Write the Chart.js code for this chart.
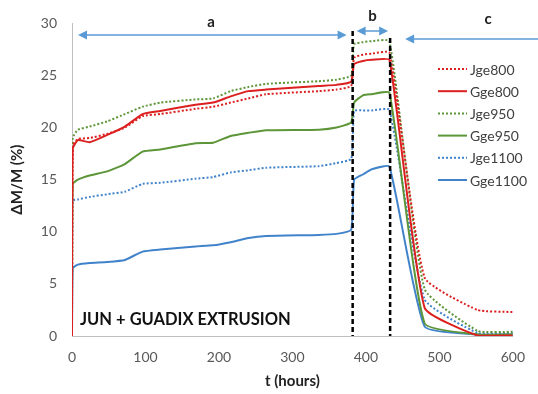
<!DOCTYPE html>
<html>
<head>
<meta charset="utf-8">
<script src="https://cdn.jsdelivr.net/npm/chart.js@4/dist/chart.umd.min.js"></script>
<style>
  html, body { margin: 0; padding: 0; background: #fff; }
  #wrap { width: 538px; height: 394px; position: relative; }
</style>
</head>
<body>
<div id="wrap"><canvas id="c" width="538" height="394"></canvas></div>
<script>
// Sampling times (hours)
const hours = [0, 1, 8, 24, 48, 72, 96, 120, 168, 192, 216, 240, 264, 336, 360, 380, 384, 396, 408, 432, 480, 552, 600];

// Mass change ΔM/M (%) per sample
const jge800  = [0, 18.3, 18.9, 19.0, 19.4, 20.0, 21.1, 21.3, 21.8, 22.0, 22.4, 22.8, 23.2, 23.5, 23.65, 24.0, 26.7, 27.0, 27.1, 27.2, 5.6, 2.5, 2.3];
const gge800  = [0, 18.0, 18.8, 18.6, 19.3, 20.1, 21.3, 21.6, 22.2, 22.4, 23.0, 23.5, 23.65, 24.0, 24.1, 24.4, 26.1, 26.4, 26.5, 26.5, 2.7, 0.05, 0.05];
const jge950  = [0, 19.0, 19.8, 20.1, 20.6, 21.3, 22.0, 22.4, 22.7, 22.8, 23.5, 23.9, 24.2, 24.45, 24.6, 25.0, 28.0, 28.2, 28.3, 28.3, 4.5, 0.5, 0.4];
const gge950  = [0, 14.6, 15.0, 15.4, 15.8, 16.5, 17.7, 17.9, 18.5, 18.55, 19.2, 19.5, 19.75, 19.8, 20.0, 20.5, 22.4, 23.1, 23.2, 23.35, 1.2, 0.15, 0.15];
const jge1100 = [0, 13.0, 13.1, 13.35, 13.6, 13.85, 14.6, 14.7, 15.1, 15.25, 15.7, 15.9, 16.15, 16.3, 16.6, 17.0, 21.6, 21.65, 21.65, 21.7, 3.5, 0.3, 0.3];
const gge1100 = [0, 6.5, 6.85, 7.0, 7.1, 7.3, 8.1, 8.3, 8.6, 8.7, 9.0, 9.4, 9.6, 9.7, 9.8, 10.2, 15.0, 15.5, 16.0, 16.25, 0.9, 0.15, 0.15];

const seriesNames = ['Jge800', 'Gge800', 'Jge950', 'Gge950', 'Jge1100', 'Gge1100'];

// Stage boundaries (hours) and stage labels
const stageBounds = [382, 433];
const stageLabels = ['a', 'b', 'c'];
const panelTitle = 'JUN + GUADIX EXTRUSION';

const RED = '#dc1f1f', GREEN = '#5c9638', BLUE = '#4183cb', ARROW = '#5b9bd5';
const FONT = 'Lato, "Open Sans", sans-serif';

function pts(vals) { return hours.map((h, i) => ({ x: h, y: vals[i] })); }
function ds(label, vals, color, dotted) {
  return {
    label, data: pts(vals), borderColor: color, backgroundColor: color,
    borderWidth: 2, borderDash: dotted ? [2, 2] : [], pointRadius: 0,
    tension: 0.15, fill: false
  };
}

const datasets = [
  ds(seriesNames[0], jge800, RED, true),
  ds(seriesNames[1], gge800, RED, false),
  ds(seriesNames[2], jge950, GREEN, true),
  ds(seriesNames[3], gge950, GREEN, false),
  ds(seriesNames[4], jge1100, BLUE, true),
  ds(seriesNames[5], gge1100, BLUE, false)
];

function arrowHead(ctx, x, y, dir) {
  ctx.beginPath();
  ctx.moveTo(x, y);
  ctx.lineTo(x - dir * 9, y - 4.5);
  ctx.lineTo(x - dir * 9, y + 4.5);
  ctx.closePath();
  ctx.fill();
}

// Stage arrows, boundaries, labels and the panel caption
const annotations = {
  id: 'stages',
  afterDatasetsDraw(chart) {
    const { ctx, scales: { x, y }, chartArea } = chart;
    const xb1 = x.getPixelForValue(stageBounds[0]);
    const xb2 = x.getPixelForValue(stageBounds[1]);
    ctx.save();
    // dashed boundaries
    ctx.strokeStyle = '#000';
    ctx.lineWidth = 2.5;
    ctx.setLineDash([5, 3]);
    ctx.beginPath();
    ctx.moveTo(xb1, 31); ctx.lineTo(xb1, chartArea.bottom);
    ctx.moveTo(xb2, 38); ctx.lineTo(xb2, chartArea.bottom);
    ctx.stroke();
    ctx.setLineDash([]);

    // arrows
    ctx.strokeStyle = ARROW;
    ctx.fillStyle = ARROW;
    ctx.lineWidth = 1.5;
    const x0 = x.getPixelForValue(0);
    const segs = [
      [x0 + 6, xb1 - 6, 35, true, true],
      [xb1 + 4, xb2 - 2, 31, true, true],
      [xb2 + 15, 545, 39, true, false]
    ];
    segs.forEach(([a, b, yy, l, r]) => {
      ctx.beginPath();
      ctx.moveTo(a + (l ? 6 : 0), yy);
      ctx.lineTo(b - (r ? 6 : 0), yy);
      ctx.stroke();
      if (l) arrowHead(ctx, a, yy, -1);
      if (r) arrowHead(ctx, b, yy, 1);
    });

    // stage letters
    ctx.fillStyle = '#222';
    ctx.font = 'bold 15px ' + FONT;
    ctx.textAlign = 'center';
    ctx.textBaseline = 'middle';
    ctx.fillText(stageLabels[0], 211, 22);
    ctx.fillText(stageLabels[1], (xb1 + xb2) / 2 + 1, 16);
    ctx.fillText(stageLabels[2], 488, 19);

    // caption
    ctx.fillStyle = '#111';
    ctx.font = 'bold 16.5px ' + FONT;
    ctx.textAlign = 'left';
    ctx.fillText(panelTitle, 80, 320);
    ctx.restore();
  }
};

// Legend drawn inside the plot area, right side
const insideLegend = {
  id: 'insideLegend',
  afterDraw(chart) {
    const { ctx } = chart;
    ctx.save();
    ctx.font = '14px ' + FONT;
    ctx.textBaseline = 'middle';
    ctx.textAlign = 'left';
    chart.data.datasets.forEach((d, i) => {
      const yy = 69 + i * 22.2;
      ctx.strokeStyle = d.borderColor;
      ctx.lineWidth = 2;
      ctx.setLineDash(d.borderDash || []);
      ctx.beginPath();
      ctx.moveTo(438, yy);
      ctx.lineTo(467, yy);
      ctx.stroke();
      ctx.setLineDash([]);
      ctx.fillStyle = '#404040';
      ctx.fillText(d.label, 470, yy + 1);
    });
    ctx.restore();
  }
};

new Chart(document.getElementById('c'), {
  type: 'line',
  data: { datasets },
  options: {
    responsive: false,
    animation: false,
    layout: { padding: { left: 0, right: 22, top: 22, bottom: 0 } },
    plugins: { legend: { display: false }, tooltip: { enabled: false } },
    scales: {
      x: {
        type: 'linear', min: 0, max: 600,
        ticks: { stepSize: 100, color: '#595959', font: { family: FONT, size: 14 }, padding: 13, maxRotation: 0 },
        grid: { display: false, drawTicks: false },
        border: { display: true, color: '#bfbfbf', width: 1 },
        title: { display: true, text: 't (hours)', color: '#222', font: { family: FONT, size: 15, weight: 'bold' }, padding: { top: 0, bottom: 4 } },
        afterFit(s) { s.height = 58; }
      },
      y: {
        min: 0, max: 30,
        ticks: { stepSize: 5, color: '#595959', font: { family: FONT, size: 14 }, padding: 15 },
        grid: { display: false, drawTicks: false },
        border: { display: true, color: '#bfbfbf', width: 1 },
        title: { display: true, text: 'ΔM/M (%)', color: '#222', font: { family: FONT, size: 15, weight: 'bold' }, padding: { top: 8, bottom: 0 } },
        afterFit(s) { s.width = 72; }
      }
    }
  },
  plugins: [annotations, insideLegend]
});
</script>
</body>
</html>
